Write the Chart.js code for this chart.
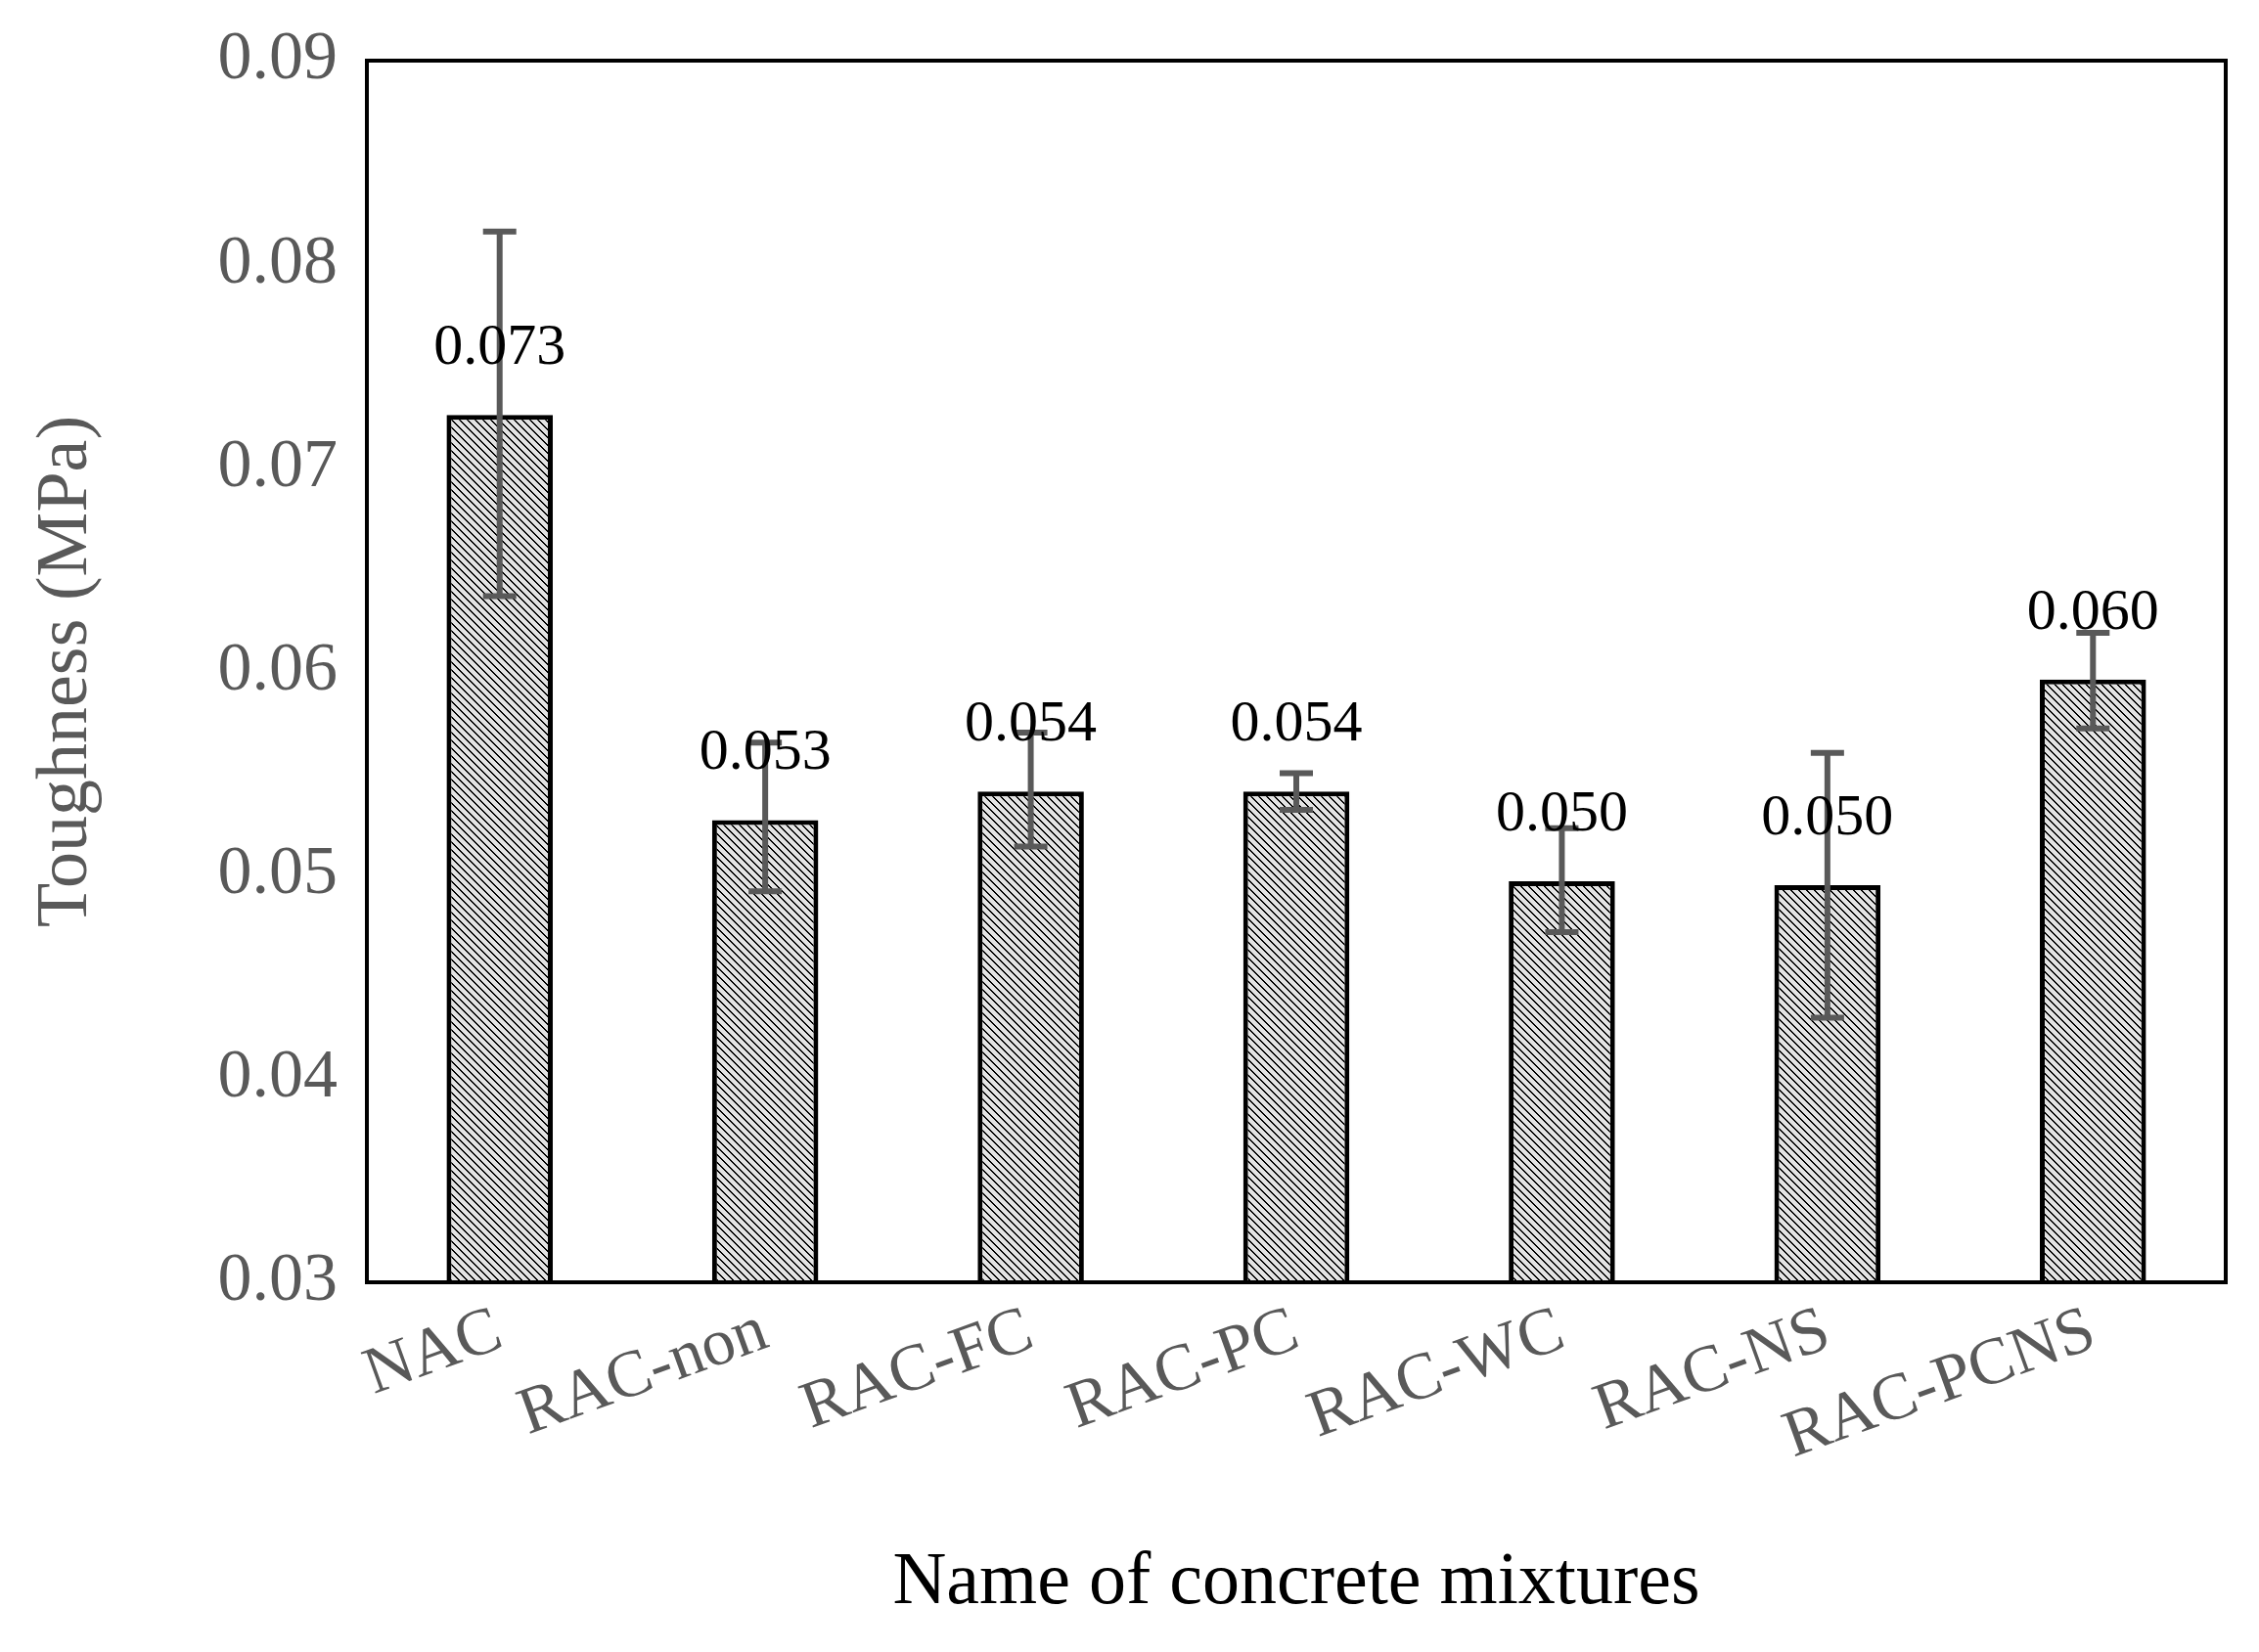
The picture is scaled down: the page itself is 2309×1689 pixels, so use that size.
<!DOCTYPE html>
<html><head><meta charset="utf-8">
<script src="https://cdn.jsdelivr.net/npm/chart.js@4/dist/chart.umd.min.js"></script>
<style>html,body{margin:0;padding:0;background:#fff}</style>
</head><body>
<canvas id="c" width="2309" height="1689"></canvas>
<script>
const categories = ["NAC","RAC-non","RAC-FC","RAC-PC","RAC-WC","RAC-NS","RAC-PCNS"];
const toughness = [0.0726,0.0527,0.0541,0.0541,0.0497,0.0495,0.0596];
const errLow  = [0.0637,0.0492,0.0514,0.0532,0.0472,0.0430,0.0572];
const errHigh = [0.0816,0.0565,0.0570,0.0550,0.0523,0.0560,0.0619];
const valueLabels = ["0.073","0.053","0.054","0.054","0.050","0.050","0.060"];

function makePattern(){
  const p=document.createElement('canvas'); p.width=8; p.height=8;
  const g=p.getContext('2d');
  g.fillStyle='#e3e3e3'; g.fillRect(0,0,8,8);
  g.fillStyle='#000';
  for(let i=0;i<8;i++){ g.fillRect(i,i,1,1); }
  for(let i=0;i<8;i++){ g.fillRect((i+1)%8,i,1,1); }
  return document.getElementById('c').getContext('2d').createPattern(p,'repeat');
}
const serif='"Liberation Serif", "Times New Roman", serif';

const overlay={
  id:'overlay',
  afterDatasetsDraw(chart){
    const ctx=chart.ctx, y=chart.scales.y, meta=chart.getDatasetMeta(0);
    ctx.save();
    ctx.strokeStyle='#595959'; ctx.lineWidth=6;
    meta.data.forEach((b,i)=>{
      const x=b.x, y1=y.getPixelForValue(errLow[i]), y2=y.getPixelForValue(errHigh[i]);
      ctx.beginPath(); ctx.moveTo(x,y1); ctx.lineTo(x,y2);
      ctx.moveTo(x-17,y1); ctx.lineTo(x+17,y1);
      ctx.moveTo(x-17,y2); ctx.lineTo(x+17,y2); ctx.stroke();
    });
    ctx.fillStyle='#000'; ctx.font='60px '+serif; ctx.textAlign='center'; ctx.textBaseline='bottom';
    meta.data.forEach((b,i)=>{ ctx.fillText(valueLabels[i], b.x, b.y-38); });
    const a=chart.chartArea;
    ctx.strokeStyle='#000'; ctx.lineWidth=4;
    ctx.strokeRect(a.left,a.top,a.right-a.left,a.bottom-a.top);
    ctx.restore();
  }
};

new Chart(document.getElementById('c'),{
  type:'bar',
  data:{labels:categories,datasets:[{data:toughness,backgroundColor:makePattern(),borderColor:'#000',borderWidth:5,borderSkipped:false,barPercentage:0.4,categoryPercentage:1}]},
  options:{
    responsive:false, devicePixelRatio:1, animation:false,
    layout:{padding:{top:62,right:34,left:20,bottom:20}},
    plugins:{legend:{display:false},tooltip:{enabled:false}},
    scales:{
      y:{min:0.03,max:0.09,
        ticks:{stepSize:0.01,color:'#595959',font:{family:serif,size:70},padding:14,callback:v=>v.toFixed(2)},
        grid:{display:false,drawTicks:true,tickLength:16,tickColor:'#000',tickWidth:4},
        border:{color:'#000',width:4},
        title:{display:true,text:'Toughness (MPa)',color:'#595959',font:{family:serif,size:74},padding:{bottom:10}},
        afterFit(s){s.width=355;}
      },
      x:{
        ticks:{color:'#595959',font:{family:serif,size:68},minRotation:20,maxRotation:20,padding:10},
        grid:{display:false,drawTicks:false},
        border:{color:'#000',width:4},
        title:{display:true,text:'Name of concrete mixtures',color:'#000',font:{family:serif,size:76},padding:{top:30}},
        afterFit(s){s.height=358;}
      }
    }
  },
  plugins:[overlay]
});
</script>
</body></html>
